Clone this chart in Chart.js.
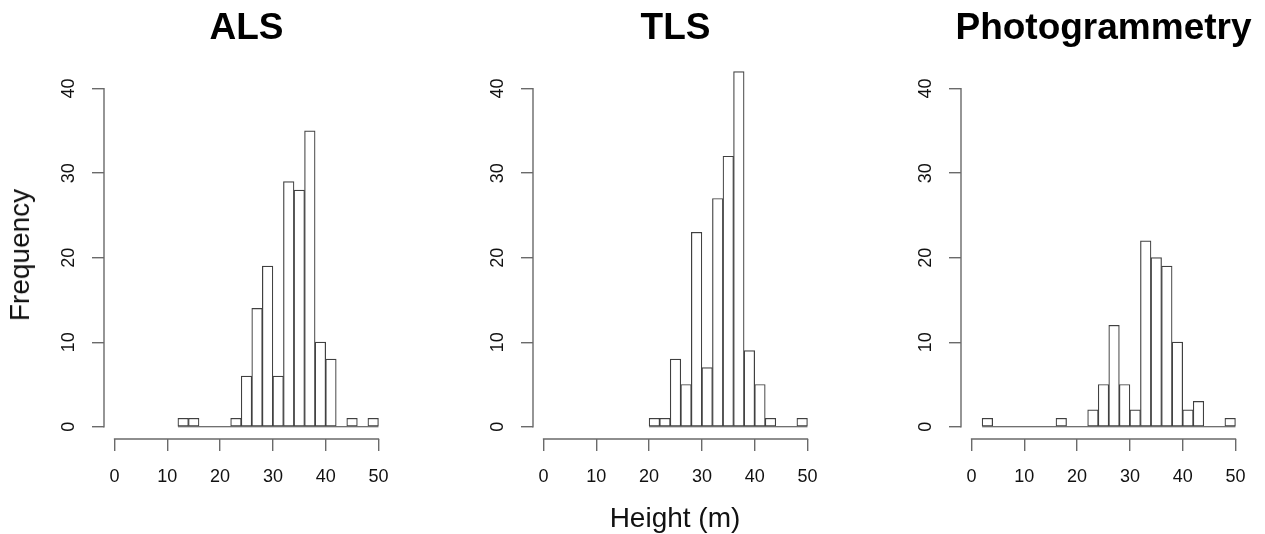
<!DOCTYPE html>
<html><head><meta charset="utf-8">
<script src="https://cdn.jsdelivr.net/npm/chart.js@4.4.1/dist/chart.umd.min.js"></script>
<style>
html,body{margin:0;padding:0;background:#fff;width:1265px;height:534px;overflow:hidden;position:relative;font-family:"Liberation Sans",Arial,sans-serif}
canvas{position:absolute;top:0}
.lab{position:absolute;font-size:28px;line-height:28px;color:#111;white-space:nowrap}
.ttl{position:absolute;top:26px;font-size:37px;line-height:37px;font-weight:bold;color:#000;white-space:nowrap;transform:translate(-50%,-50%)}
#ylab{left:20px;top:255px;transform:translate(-50%,-50%) rotate(-90deg)}
#xlab{left:675px;top:518px;transform:translate(-50%,-50%)}
</style></head><body>
<canvas id="c1" width="408" height="534" style="left:0px"></canvas>
<canvas id="c2" width="408" height="534" style="left:429px"></canvas>
<canvas id="c3" width="408" height="534" style="left:857px"></canvas>
<div class="ttl" id="t1"></div>
<div class="ttl" id="t2"></div>
<div class="ttl" id="t3"></div>
<div class="lab" id="ylab">Frequency</div>
<div class="lab" id="xlab">Height (m)</div>
<script>
// Histogram data: bin width 2 m, counts listed from the first break
const binWidth = 2;
const alsStart = 12;
const alsCounts = [1,1,0,0,0,1,6,14,19,6,29,28,35,10,8,0,1,0,1];
const tlsStart = 20;
const tlsCounts = [1,1,8,5,23,7,27,32,42,9,5,1,0,0,1];
const photoStart = 2;
const photoCounts = [1,0,0,0,0,0,0,1,0,0,2,5,12,5,2,22,20,19,10,2,3,0,0,1];
const panelTitles = ['ALS','TLS','Photogrammetry'];
const xTickValues = [0,10,20,30,40,50];
const yTickValues = [0,10,20,30,40];

const FONT = '"Liberation Sans", Arial, sans-serif';
const AXIS_COLOR = '#6a6a6a';
const BAR_COLOR = '#404040';

const rAxes = {
  id: 'rAxes',
  afterDraw(chart) {
    const ctx = chart.ctx, x = chart.scales.x, y = chart.scales.y;
    ctx.save();
    ctx.strokeStyle = AXIS_COLOR;
    ctx.lineWidth = 1.4;
    ctx.beginPath();
    ctx.moveTo(x.getPixelForValue(xTickValues[0]) - 0.7, x.top);
    ctx.lineTo(x.getPixelForValue(xTickValues[xTickValues.length-1]) + 0.7, x.top);
    ctx.moveTo(y.right, y.getPixelForValue(yTickValues[0]) + 0.7);
    ctx.lineTo(y.right, y.getPixelForValue(yTickValues[yTickValues.length-1]) - 0.7);
    ctx.stroke();
    ctx.restore();
  }
};

function makePanel(id, titleId, title, start, counts) {
  const bars = counts.map((c, i) => ({x: start + binWidth * (i + 0.5), y: c}));
  const base = [{x: start, y: 0}, {x: start + binWidth * counts.length, y: 0}];
  const canvas = document.getElementById(id);
  const chart = new Chart(canvas, {
    type: 'bar',
    data: {
      datasets: [
        {type: 'line', data: base, borderColor: BAR_COLOR, borderWidth: 1.2, pointRadius: 0, order: 2},
        {type: 'bar', data: bars, backgroundColor: '#ffffff', borderColor: BAR_COLOR, borderWidth: 1.2,
         borderSkipped: false, barPercentage: 1, categoryPercentage: 1, order: 1}
      ]
    },
    options: {
      responsive: false,
      animation: false,
      devicePixelRatio: 1,
      layout: {padding: {top: 59, left: 0, right: 19, bottom: 0}},
      plugins: {
        legend: {display: false},
        tooltip: {enabled: false},
        title: {display: false}
      },
      scales: {
        x: {
          type: 'linear', min: -2, max: 52, offset: false, bounds: 'data',
          afterBuildTicks: s => { s.ticks = xTickValues.map(v => ({value: v})); },
          afterFit: s => { s.height = 95; },
          border: {display: false},
          grid: {offset: false, drawOnChartArea: false, drawTicks: true, tickLength: 12, color: AXIS_COLOR, lineWidth: 1.4},
          ticks: {color: '#111', font: {family: FONT, size: 18}, padding: 15, maxRotation: 0, autoSkip: false}
        },
        y: {
          type: 'linear', min: -1.45, max: 43.5, bounds: 'data',
          afterBuildTicks: s => { s.ticks = yTickValues.map(v => ({value: v})); },
          afterFit: s => { s.width = 104; },
          border: {display: false},
          grid: {drawOnChartArea: false, drawTicks: true, tickLength: 12, color: AXIS_COLOR, lineWidth: 1.4},
          ticks: {color: '#111', font: {family: FONT, size: 18}, padding: 13, minRotation: 90, maxRotation: 90,
                  crossAlign: 'center', autoSkip: false}
        }
      }
    },
    plugins: [rAxes]
  });
  const t = document.getElementById(titleId);
  t.textContent = title;
  const a = chart.chartArea;
  t.style.left = (canvas.offsetLeft + (a.left + a.right) / 2) + 'px';
}

makePanel('c1', 't1', panelTitles[0], alsStart, alsCounts);
makePanel('c2', 't2', panelTitles[1], tlsStart, tlsCounts);
makePanel('c3', 't3', panelTitles[2], photoStart, photoCounts);
</script>
</body></html>
